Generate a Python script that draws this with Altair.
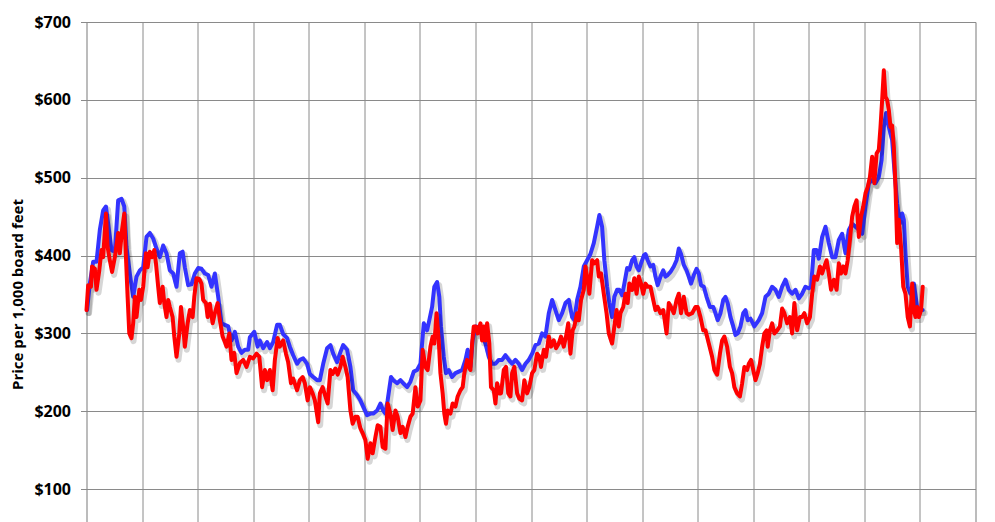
import altair as alt
import pandas as pd

# Time in years from the first vertical gridline; prices in $ per 1,000 board feet
blue_t = [0.01,0.06,0.12,0.18,0.24,0.30,0.35,0.39,0.45,0.51,0.57,0.63,0.68,0.72,0.78,0.84,0.90,0.96,
          1.02,1.08,1.14,1.20,1.26,1.32,1.38,1.44,1.50,1.56,1.62,1.68,1.73,1.77,1.83,1.89,1.95,
          2.01,2.07,2.13,2.19,2.25,2.31,2.37,2.43,2.49,2.55,2.61,2.67,2.73,2.79,2.85,2.91,2.94,
          3.02,3.08,3.12,3.18,3.25,3.30,3.36,3.43,3.48,3.54,3.61,3.66,3.72,3.79,3.84,3.90,3.97,
          4.02,4.08,4.15,4.20,4.26,4.33,4.39,4.44,4.51,4.57,4.62,4.69,4.75,4.80,4.87,4.93,4.98,
          5.05,5.11,5.16,5.23,5.29,5.34,5.38,5.42,5.48,5.52,5.59,5.65,5.70,5.77,5.83,5.89,5.95,
          6.01,6.07,6.13,6.17,6.22,6.26,6.31,6.35,6.38,6.43,6.47,6.52,6.58,6.64,6.70,6.76,6.82,6.86,6.91,6.95,
          7.00,7.06,7.12,7.18,7.24,7.30,7.36,7.42,7.48,7.54,7.60,7.66,7.72,7.78,7.84,7.90,7.96,
          8.02,8.08,8.14,8.20,8.26,8.32,8.38,8.44,8.50,8.56,8.62,8.68,8.74,8.78,8.83,8.89,8.95,
          9.01,9.07,9.13,9.19,9.23,9.28,9.32,9.37,9.41,9.46,9.50,9.55,9.59,9.64,9.68,9.73,9.77,9.82,9.86,9.90,9.94,9.98,
          10.03,10.06,10.10,10.15,10.20,10.24,10.28,10.33,10.38,10.42,10.46,10.51,10.57,10.62,10.66,10.70,10.75,10.80,10.84,10.88,10.93,10.98,
          11.02,11.06,11.11,11.16,11.22,11.28,11.32,11.36,11.41,11.46,11.50,11.54,11.59,11.64,11.68,11.72,11.77,11.82,11.86,11.90,11.95,
          12.02,12.10,12.16,12.22,12.28,12.34,12.40,12.46,12.52,12.58,12.64,12.70,12.76,12.82,12.88,12.94,
          13.00,13.04,13.09,13.14,13.18,13.24,13.30,13.36,13.42,13.48,13.54,13.60,13.66,13.72,13.78,13.84,13.90,13.96,
          14.02,14.08,14.14,14.20,14.26,14.31,14.35,14.39,14.44,14.50,14.54,14.59,14.64,14.68,14.71,14.74,14.78,14.83,14.89,14.95,
          15.01,15.05]
blue_v = [330,364,392,392,433,458,463,441,407,405,471,473,463,411,377,347,373,381,
          385,424,429,422,409,398,413,403,381,377,360,403,405,385,362,363,377,
          384,383,377,375,360,377,347,313,311,309,291,302,283,275,279,279,295,
          302,283,291,281,289,281,289,311,311,299,294,283,272,261,266,268,261,
          248,244,240,240,261,281,285,274,263,276,285,279,257,227,221,214,206,
          195,197,197,201,210,201,197,214,244,240,236,240,236,231,238,251,253,
          261,313,304,317,334,360,366,347,309,270,249,253,244,249,251,253,266,279,257,291,
          309,308,300,287,270,261,261,266,266,272,266,261,266,261,253,261,266,
          274,285,287,300,296,326,343,330,317,326,339,343,321,317,343,360,386,
          394,402,416,437,452,437,394,360,339,321,347,356,356,349,364,384,382,394,398,386,381,390,
          400,402,394,386,388,373,362,373,381,373,375,379,386,394,409,402,388,381,373,364,375,383,
          377,362,360,347,334,334,326,317,326,343,347,339,321,309,298,300,309,326,330,317,319,
          309,317,326,347,351,360,356,347,360,369,356,351,356,345,351,360,
          358,360,407,407,396,424,437,416,398,398,420,428,403,433,441,437,433,428,
          463,493,497,493,501,523,565,583,565,548,510,467,441,454,446,403,360,351,364,334,
          330,330]

red_t = [0.00,0.03,0.08,0.10,0.15,0.18,0.23,0.27,0.30,0.35,0.38,0.42,0.46,0.51,0.57,0.60,0.64,0.68,0.71,0.74,0.77,0.81,0.84,0.87,0.90,0.95,0.98,
         1.02,1.07,1.10,1.14,1.18,1.22,1.25,1.29,1.32,1.37,1.40,1.44,1.47,1.50,1.55,1.58,1.62,1.67,1.70,1.74,1.77,1.82,1.86,1.91,1.94,1.98,
         2.03,2.07,2.10,2.15,2.18,2.22,2.27,2.31,2.36,2.40,2.45,2.48,2.52,2.57,2.61,2.66,2.70,2.76,2.82,2.88,2.94,
         3.00,3.06,3.11,3.16,3.21,3.25,3.30,3.35,3.39,3.44,3.48,3.54,3.59,3.63,3.68,3.72,3.79,3.84,3.89,3.93,3.98,
         4.02,4.07,4.11,4.17,4.20,4.25,4.30,4.34,4.39,4.43,4.48,4.52,4.57,4.61,4.66,4.70,4.75,4.79,4.84,4.88,4.93,4.97,
         5.02,5.06,5.11,5.15,5.20,5.24,5.29,5.33,5.38,5.42,5.47,5.51,5.56,5.60,5.65,5.69,5.74,5.78,5.83,5.87,5.92,5.96,
         6.01,6.05,6.10,6.14,6.19,6.23,6.26,6.30,6.34,6.37,6.41,6.44,6.47,6.50,6.55,6.59,6.64,6.68,6.73,6.77,6.80,6.85,6.88,6.91,6.94,6.97,
         7.01,7.04,7.09,7.12,7.15,7.18,7.21,7.25,7.28,7.33,7.36,7.39,7.43,7.46,7.51,7.55,7.59,7.63,7.66,7.70,7.75,7.79,7.84,7.88,7.93,7.97,
         8.02,8.06,8.11,8.15,8.18,8.23,8.27,8.32,8.36,8.41,8.45,8.50,8.54,8.59,8.63,8.67,8.71,8.75,8.78,8.83,8.86,8.90,8.95,8.98,
         9.02,9.05,9.10,9.14,9.19,9.22,9.26,9.31,9.36,9.40,9.46,9.50,9.54,9.58,9.61,9.66,9.70,9.74,9.77,9.82,9.86,9.90,9.94,9.98,
         10.02,10.06,10.10,10.15,10.20,10.24,10.28,10.33,10.38,10.44,10.48,10.52,10.57,10.62,10.66,10.70,10.75,10.80,10.84,10.90,10.96,
         11.00,11.05,11.10,11.14,11.20,11.26,11.30,11.35,11.40,11.44,11.48,11.53,11.58,11.62,11.66,11.71,11.76,11.80,11.84,11.89,11.92,11.96,
         12.00,12.04,12.08,12.12,12.16,12.20,12.24,12.26,12.30,12.34,12.38,12.43,12.48,12.52,12.56,12.61,12.66,12.70,12.74,12.79,12.84,12.88,12.92,12.97,
         13.02,13.06,13.10,13.15,13.20,13.24,13.28,13.32,13.36,13.40,13.45,13.50,13.54,13.58,13.62,13.66,13.70,13.74,13.78,13.82,13.86,13.90,13.94,13.98,
         14.02,14.06,14.10,14.14,14.18,14.22,14.26,14.29,14.32,14.35,14.38,14.41,14.44,14.47,14.50,14.53,14.56,14.59,14.62,14.66,14.70,14.74,14.78,14.82,14.86,14.89,14.92,14.95,14.98,
         15.02,15.05]
red_v = [330,362,360,386,383,356,381,407,398,454,411,394,379,398,429,403,433,454,398,347,300,294,313,347,321,356,343,
         360,403,385,405,398,407,390,360,339,360,339,321,343,334,321,296,270,300,334,309,283,313,330,321,347,371,
         370,364,343,339,321,338,313,326,339,317,296,291,283,300,266,275,249,262,266,257,270,
         268,274,270,231,253,240,253,227,266,294,283,291,274,263,236,242,227,240,244,236,214,
         231,223,214,186,223,231,219,210,253,248,255,247,257,270,257,244,201,184,193,193,178,172,
         163,139,159,146,167,182,180,154,152,210,197,176,201,193,172,180,167,180,193,197,231,206,
         214,279,257,253,283,296,287,326,291,249,223,197,184,201,197,210,206,219,227,231,249,266,257,253,287,309,
         309,300,313,291,309,291,313,287,231,227,210,236,223,223,253,257,223,219,249,257,223,216,214,240,223,231,
         249,253,274,270,257,279,270,296,283,291,281,287,296,283,296,313,274,304,309,326,317,343,356,386,
         369,351,394,390,394,373,377,351,326,300,287,309,330,309,326,334,351,339,364,356,371,351,373,364,
         351,364,360,360,343,330,334,326,330,300,339,334,326,343,351,326,347,326,324,326,334,
         334,321,304,304,287,270,253,247,274,291,296,283,257,249,231,223,219,236,257,253,261,266,
         253,240,249,261,283,300,304,283,304,313,300,304,309,332,326,313,321,300,339,304,321,321,326,313,
         321,351,373,369,386,377,386,394,377,356,369,356,390,377,386,377,394,420,450,463,471,424,450,463,
         480,488,501,527,493,531,536,565,600,638,604,600,587,565,567,540,488,416,446,411,360,351,321,309,364,330,321,334,321,
         330,360]

y_ticks = [100, 200, 300, 400, 500, 600, 700]
x_grid = list(range(0, 17))

blue_df = pd.DataFrame({"t": blue_t, "price": blue_v})
red_df = pd.DataFrame({"t": red_t, "price": red_v})

FONT = "Open Sans"

x_enc = alt.X("t:Q", scale=alt.Scale(domain=[0, 16], nice=False, zero=False),
              axis=alt.Axis(values=x_grid, labels=False, ticks=False, domain=False,
                            grid=True, gridColor="#8a8a8a", gridWidth=1, title=None))
y_enc = alt.Y("price:Q", scale=alt.Scale(domain=[0, 700], nice=False),
              axis=alt.Axis(values=y_ticks, format="$,.0f", grid=True, gridColor="#8a8a8a",
                            gridWidth=1, domain=False, tickColor="#8a8a8a", tickSize=6,
                            labelFont=FONT, labelFontSize=16, labelFontWeight="bold",
                            labelColor="#000000", labelPadding=10,
                            title="Price per 1,000 board feet", titleFont=FONT,
                            titleFontSize=15, titleFontWeight="bold", titleColor="#000000",
                            titleAngle=270, titleX=-64, titleY=272, titleAlign="center",
                            titleBaseline="alphabetic"))

def shadow(df):
    return alt.Chart(df).mark_line(color="#000000", opacity=0.16, strokeWidth=6,
                                   xOffset=2, yOffset=3, strokeJoin="round",
                                   strokeCap="round").encode(x=x_enc, y=y_enc)

blue = alt.Chart(blue_df).mark_line(color="#3333ff", strokeWidth=4, strokeJoin="round",
                                    strokeCap="round").encode(x=x_enc, y=y_enc)
red = alt.Chart(red_df).mark_line(color="#ff0000", strokeWidth=4, strokeJoin="round",
                                  strokeCap="round").encode(x=x_enc, y=y_enc)

chart = alt.layer(shadow(blue_df), blue, shadow(red_df), red).properties(
    width=889, height=545,
    autosize=alt.AutoSizeParams(type="none"),
    padding={"left": 78.5, "top": 14, "right": 10, "bottom": 10},
).configure_view(stroke=None).configure(background="#ffffff")

chart.save("out.html", embed_options={"renderer": "svg", "actions": False})
